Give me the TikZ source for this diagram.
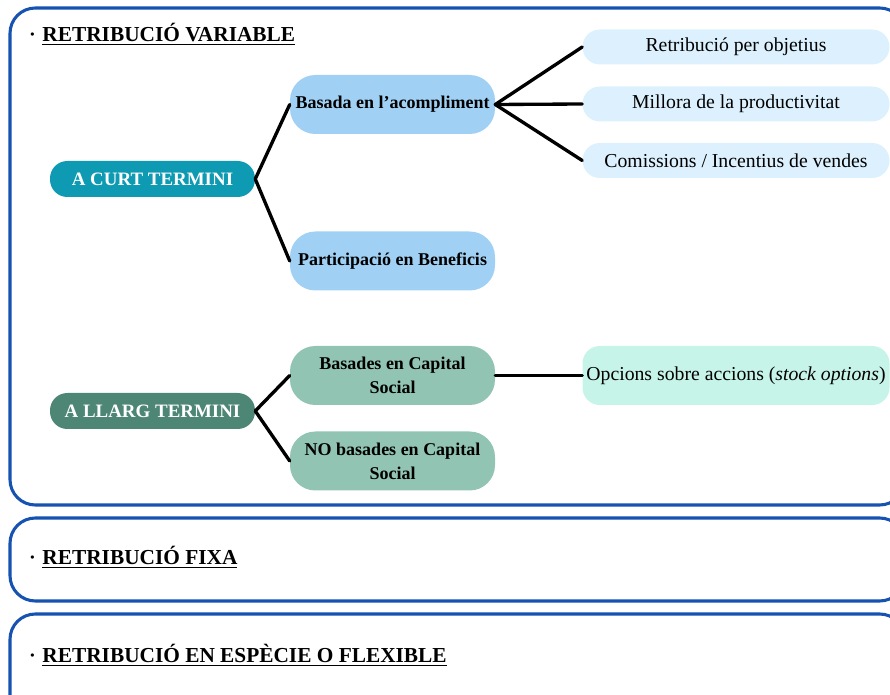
\documentclass[tikz,border=0pt]{standalone}
\usepackage{fontspec}
\setmainfont{Liberation Serif}
\definecolor{panelblue}{RGB}{22,82,176}
\definecolor{curtteal}{RGB}{14,154,178}
\definecolor{curtmid}{RGB}{160,209,245}
\definecolor{curtleaf}{RGB}{220,241,253}
\definecolor{llargdark}{RGB}{78,134,118}
\definecolor{llargmid}{RGB}{145,196,178}
\definecolor{llargleaf}{RGB}{199,244,232}
\tikzset{
	panel/.style={draw=panelblue, line width=2.3pt, rounded corners=19pt},
	heading/.style={anchor=west, inner sep=0pt, font=\fontsize{16}{19}\selectfont\bfseries},
	rootbox/.style={fill=#1, text=white, rounded corners=13pt, inner sep=0pt,
		minimum width=153.75pt, minimum height=27pt, font=\fontsize{14.2}{17}\selectfont\bfseries},
	midbox/.style={fill=#1, rounded corners=19pt, inner sep=0pt, align=center,
		minimum width=153.75pt, minimum height=44.25pt, font=\fontsize{13.5}{18}\selectfont\bfseries},
	leafbox/.style={fill=#1, rounded corners=13pt, inner sep=0pt,
		minimum width=230.25pt, minimum height=26.25pt, font=\fontsize{14.8}{17}\selectfont},
	branch/.style={line width=2.5pt, line cap=round}
}
\newcommand{\headbullet}{\raisebox{2.6pt}{\fontsize{9}{9}\selectfont\textbullet}\hspace{6pt}}

\begin{document}
\begin{tikzpicture}[x=0.75pt, y=-0.75pt]
			%%%%% START %%%%%
			\clip (0, 0) rectangle (890, 695);
			
			\draw[panel] (10, 8) rectangle (905, 505);
			\draw[panel] (10, 518) rectangle (905, 601);
			\draw[panel] (10, 614) rectangle (905, 720);
			
			\node[heading] (hvar) at (30, 34) {\headbullet\underline{RETRIBUCIÓ VARIABLE}};
			\node[heading] (hfixa) at (30, 557) {\headbullet\underline{RETRIBUCIÓ FIXA}};
			\node[heading] (hflex) at (30, 655) {\headbullet\underline{RETRIBUCIÓ EN ESPÈCIE O FLEXIBLE}};
			
			% curt termini
			\node[rootbox=curtteal] (curt) at (152.5, 179) {A CURT TERMINI};
			\node[midbox=curtmid] (acompliment) at (392.5, 104.5) {Basada en l’acompliment};
			\node[midbox=curtmid] (beneficis) at (392.5, 261) {Participació en Beneficis};
			\node[leafbox=curtleaf] (objetius) at (736, 47) {Retribució per objetius};
			\node[leafbox=curtleaf] (productivitat) at (736, 104) {Millora de la productivitat};
			\node[leafbox=curtleaf] (comissions) at (736, 160.5) {Comissions / Incentius de vendes};
			
			\draw[branch] (curt.east) -- (acompliment.west);
			\draw[branch] (curt.east) -- (beneficis.west);
			\draw[branch] (acompliment.east) -- (objetius.west);
			\draw[branch] (acompliment.east) -- (productivitat.west);
			\draw[branch] (acompliment.east) -- (comissions.west);
			
			% llarg termini
			\node[rootbox=llargdark] (llarg) at (152.5, 411) {A LLARG TERMINI};
			\node[midbox=llargmid] (capital) at (392.5, 375.5) {Basades en Capital\\Social};
			\node[midbox=llargmid] (nocapital) at (392.5, 461) {NO basades en Capital\\Social};
			\node[leafbox=llargleaf, minimum height=44.25pt] (opcions) at (736, 375.5) {Opcions sobre accions (\textit{stock options})};
			
			\draw[branch] (llarg.east) -- (capital.west);
			\draw[branch] (llarg.east) -- (nocapital.west);
			\draw[branch] (capital.east) -- (opcions.west);
			%%%%% END %%%%%
		\end{tikzpicture}
\end{document}
